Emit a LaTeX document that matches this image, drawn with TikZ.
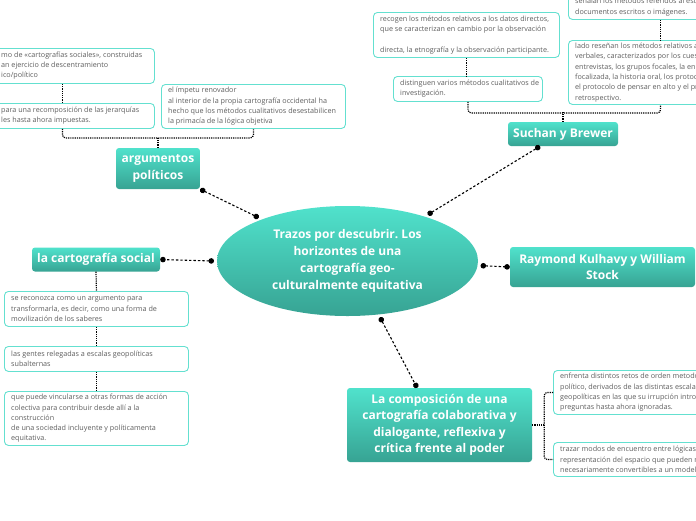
\documentclass[tikz,border=0pt]{standalone}
\usepackage{fontspec}
\setmainfont{Open Sans}
\frenchspacing
\usetikzlibrary{arrows.meta,shapes.geometric,calc}
\definecolor{tealtop}{RGB}{80,226,204}
\definecolor{tealbot}{RGB}{55,163,147}
\definecolor{leafc}{RGB}{100,224,208}
\definecolor{leaftext}{RGB}{95,95,95}
\tikzset{
 mainbox/.style={rounded corners=3pt, top color=tealtop, bottom color=tealbot, draw=none, text=white, font=\fontsize{12}{16.5}\selectfont\bfseries, align=center, inner sep=0pt},
 leafbox/.style={draw=leafc, line width=0.9pt, rounded corners=4pt, fill=white, anchor=north west, inner sep=0pt},
 leaftxt/.style={font=\fontsize{7.2}{10.3}\selectfont, text=leaftext, align=left, anchor=west, inner sep=0pt},
 bigconn/.style={line width=1.1pt, dash pattern=on 2.4pt off 2pt, {Circle[length=5.5pt]}-{Circle[length=5.5pt]}},
 leafconn/.style={line width=1.2pt, densely dotted, rounded corners=3pt},
}
\newcommand\leaf[6]{\node[leafbox, minimum width=#4pt, minimum height=#5pt] (#1) at (#2,#3) {};
 \node[leaftxt] at ($(#1.west)+(7,0)$) {#6};}
\begin{document}
\begin{tikzpicture}[x=1pt,y=-1pt]
\useasboundingbox (0,0) rectangle (696,520);
\clip (0,0) rectangle (696,520);

% central ellipse
\node[ellipse, top color=tealtop, bottom color=tealbot, minimum width=261pt, minimum height=110pt, inner sep=0pt, outer sep=3pt, text=white, align=center, font=\fontsize{12}{17}\selectfont\bfseries] (c) at (347.5,261) {Trazos por descubrir. Los\\horizontes de una\\cartografía geo-\\culturalmente equitativa};

% main nodes
\node[mainbox, minimum width=84pt, minimum height=41pt] (arg) at (158,168.5) {argumentos\\políticos};
\node[mainbox, minimum width=128pt, minimum height=24pt] (soc) at (96,259.5) {la cartografía social};
\node[mainbox, minimum width=110pt, minimum height=24pt] (su) at (563,134) {Suchan y Brewer};
\node[mainbox, minimum width=185pt, minimum height=40pt] (rm) at (602.5,267) {Raymond Kulhavy y William\\Stock};
\node[mainbox, minimum width=185pt, minimum height=74pt] (cp) at (439.5,425) {La composición de una\\cartografía colaborativa y\\dialogante, reflexiva y\\crítica frente al poder};

% leaves: argumentos politicos
\node[leafbox, minimum width=184pt, minimum height=35pt] (A1) at (-30,48) {};
\node[leaftxt] at (1,65.5) {mo de «cartografías sociales», construidas\\an ejercicio de descentramiento\\ico/político};
\node[leafbox, minimum width=184pt, minimum height=25pt] (A2) at (-30,103) {};
\node[leaftxt] at (1,115.5) {para una recomposición de las jerarquías\\les hasta ahora impuestas.};
\leaf{A3}{161}{84}{184}{44}{el ímpetu renovador\\ al interior de la propia cartografía occidental ha\\hecho que los métodos cualitativos desestabilicen\\la primacía de la lógica objetiva}

% leaves: cartografia social
\leaf{C1}{4}{291}{184}{35}{se reconozca como un argumento para\\transformarla, es decir, como una forma de\\movilización de los saberes}
\leaf{C2}{4}{346}{184}{25}{las gentes relegadas a escalas geopolíticas\\subalternas}
\leaf{C3}{4}{391}{184}{54}{que puede vincularse a otras formas de acción\\colectiva para contribuir desde allí a la\\construcción\\de una sociedad incluyente y políticamenta\\equitativa.}

% leaves: Suchan y Brewer
\leaf{S1}{373}{12}{186}{45}{recogen los métodos relativos a los datos directos,\\que se caracterizan en cambio por la observación\\\mbox{}\\directa, la etnografía y la observación participante.}
\leaf{S2}{393}{76}{149}{25}{distinguen varios métodos cualitativos de\\investigación.}
\node[leafbox, minimum width=184pt, minimum height=39pt] (S3) at (568,-20) {};
\node[leaftxt] at (575,7) {señalan los métodos referidos al estu\\documentos escritos o imágenes.};
\leaf{S4}{568}{40}{184}{64}{lado reseñan los métodos relativos a\\verbales, caracterizados por los cues\\entrevistas, los grupos focales, la en\\focalizada, la historia oral, los protoc\\el protocolo de pensar en alto y el pr\\retrospectivo.}

% leaves: composicion
\leaf{P1}{553}{370}{184}{44}{enfrenta distintos retos de orden metodo\\político, derivados de las distintas escala\\geopolíticas en las que su irrupción intro\\preguntas hasta ahora ignoradas.}
\leaf{P2}{553}{442}{184}{34}{trazar modos de encuentro entre lógicas\\representación del espacio que pueden n\\necesariamente convertibles a un modelo}

% main connectors
\draw[bigconn] (c.154) -- (arg.south east);
\draw[bigconn] (c.west) -- (soc.east);
\draw[bigconn] (c.30) -- (su.208);
\draw[bigconn] (c.-2) -- (rm.west);
\draw[bigconn] (c.-60) -- (cp.121);

% leaf connectors
\draw[leafconn] (A1.south) -- (A2.north);
\draw[leafconn] (A2.south) -- ++(0,9) -| (A3.south);
\draw[leafconn] (arg.north) -- ++(0,-11);
\draw[leafconn] (soc.south) -- (C1.north);
\draw[leafconn] (C1.south) -- (C2.north);
\draw[leafconn] (C2.south) -- (C3.north);
\draw[leafconn] (S1.south) -- (S1.south |- S2.north);
\draw[leafconn] (S2.south) -- ++(0,11) -| (S4.south);
\draw[leafconn] (su.north) -- ++(0,-10);
\draw[leafconn] (S3.south) -- (S4.north);
\draw[leafconn] (cp.east) -- ++(12,0);
\draw[leafconn] (P1.west) -| ($(cp.east)+(12,0)$) |- (P2.west);
\end{tikzpicture}
\end{document}
